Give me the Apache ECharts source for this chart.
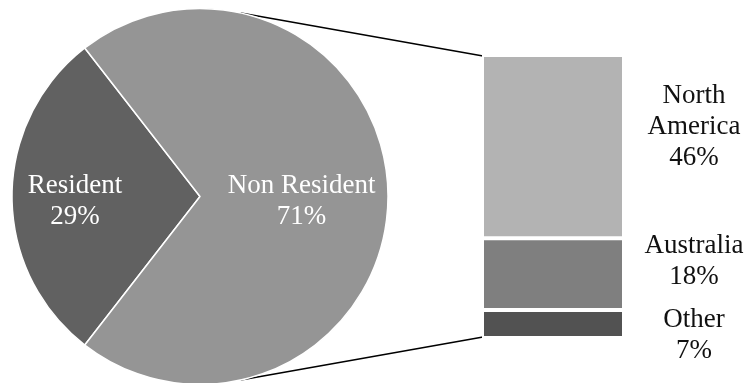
<!DOCTYPE html>
<html>
<head>
<meta charset="utf-8">
<script src="https://cdn.jsdelivr.net/npm/echarts@6/dist/echarts.min.js"></script>
<style>
  html, body { margin: 0; padding: 0; background: #fff; }
  #chart { width: 745px; height: 383px; }
</style>
</head>
<body>
<div id="chart"></div>
<script>
// pie: residency split
const pieNames = ['Resident', 'Non Resident'];
const pieValues = [29, 71];
const pieColors = ['#616161', '#959595'];

// bar: breakdown of non residents (top to bottom)
const barNames = ['North America', 'Australia', 'Other'];
const barLabels = ['North\nAmerica', 'Australia', 'Other'];
const barValues = [46, 18, 7];
const barColors = ['#b3b3b3', '#7f7f7f', '#525252'];

const font = 'Liberation Serif, Times New Roman, serif';
const fontSize = 27;
const pieCenter = [200, 196.5];
const pieRadius = 188;
const gridLeft = 482, gridTop = 55, gridWidth = 142, gridHeight = 283;
const barLabelOffsets = [-20, -13, 11];
// how far out along the slice's mid angle each pie label sits (fraction of radius)
const pieLabelRadius = [0.665, 0.54];

const chart = echarts.init(document.getElementById('chart'));
const barTotal = barValues.reduce((a, b) => a + b, 0);
const pieTotal = pieValues.reduce((a, b) => a + b, 0);
const startAngle = 180 + pieValues[0] / pieTotal * 180;

// mid angle of each slice, clockwise from startAngle
const midAngles = [];
let acc = startAngle;
pieValues.forEach(v => {
    const span = v / pieTotal * 360;
    midAngles.push(acc - span / 2);
    acc -= span;
});

// stack bottom-up: last item in the list sits at the bottom
const barSeries = barNames.map((name, i) => ({
    name: name,
    type: 'bar',
    stack: 'nr',
    barWidth: '100%',
    data: [barValues[i]],
    itemStyle: { color: barColors[i], borderColor: '#fff', borderWidth: 2 },
    label: {
        show: true,
        position: 'right',
        distance: 0,
        align: 'center',
        offset: [70, barLabelOffsets[i]],
        fontFamily: font,
        fontSize: fontSize,
        lineHeight: 31,
        color: '#111',
        formatter: () => barLabels[i] + '\n' + barValues[i] + '%'
    }
})).reverse();

chart.setOption({
    animation: false,
    grid: { left: gridLeft, top: gridTop, width: gridWidth, height: gridHeight },
    xAxis: { type: 'category', data: ['Non Resident'], show: false },
    yAxis: { type: 'value', min: 0, max: barTotal, show: false },
    series: [
        {
            type: 'pie',
            center: pieCenter,
            radius: pieRadius,
            startAngle: startAngle,
            clockwise: true,
            data: pieNames.map((n, i) => ({ name: n, value: pieValues[i], itemStyle: { color: pieColors[i] } })),
            itemStyle: { borderColor: '#fff', borderWidth: 1.5 },
            label: {
                show: true,
                position: 'inside',
                fontFamily: font,
                fontSize: fontSize,
                lineHeight: 31,
                color: '#fff',
                formatter: p => p.name + '\n' + p.value + '%'
            },
            labelLayout: p => {
                const a = midAngles[p.dataIndex] * Math.PI / 180;
                const r = pieRadius * pieLabelRadius[p.dataIndex];
                return {
                    x: pieCenter[0] + r * Math.cos(a),
                    y: pieCenter[1] - r * Math.sin(a) + 5,
                    align: 'center',
                    verticalAlign: 'middle'
                };
            },
            emphasis: { disabled: true }
        },
        ...barSeries
    ]
});

// connector lines from the pie edge to the bar corners
const ang = 77.5 * Math.PI / 180;
const px = pieCenter[0] + pieRadius * Math.cos(ang);
const topY = chart.convertToPixel({ yAxisIndex: 0 }, barTotal);
const botY = chart.convertToPixel({ yAxisIndex: 0 }, 0);
const barX = gridLeft + 1;
chart.setOption({
    graphic: [
        { type: 'line', shape: { x1: px, y1: pieCenter[1] - pieRadius * Math.sin(ang), x2: barX, y2: topY + 1 }, style: { stroke: '#000', lineWidth: 1.5 } },
        { type: 'line', shape: { x1: px, y1: pieCenter[1] + pieRadius * Math.sin(ang), x2: barX, y2: botY - 1 }, style: { stroke: '#000', lineWidth: 1.5 } }
    ]
});
</script>
</body>
</html>
